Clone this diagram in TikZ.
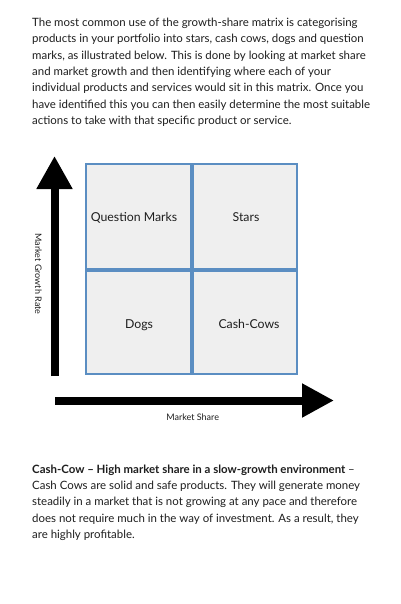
\documentclass[tikz,border=0pt]{standalone}
\usepackage{fontspec}
\setmainfont{Lato}
\usetikzlibrary{arrows.meta}
\definecolor{txt}{HTML}{1E1E1E}
\definecolor{cellborder}{HTML}{5B8EC2}
\definecolor{cellfill}{HTML}{EFEFEF}
\tikzset{
  para/.style={anchor=base west, inner sep=0pt, align=left, text=txt,
    font={\fontsize{11.45}{16.3}\selectfont}},
  cell/.style={draw=cellborder, fill=cellfill, line width=2pt, inner sep=0pt},
  celllabel/.style={anchor=base, inner sep=0pt, text=txt, font={\fontsize{12.3}{14}\selectfont}},
  axislabel/.style={inner sep=0pt, text=txt, font={\fontsize{9}{11}\selectfont}},
  axis/.style={line width=8pt, draw=black}
}
\begin{document}
\begin{tikzpicture}[x=1pt,y=-1pt]
\useasboundingbox (0,0) rectangle (400,604);
\fill[white] (0,0) rectangle (400,604);

% base anchor of a multi-line node = baseline of its last line
\node[para] (intro) at (32,124.5) {The most common use of the growth-share matrix is categorising\\
products in your portfolio into stars, cash cows, dogs and question\\
marks, as illustrated below. This is done by looking at market share\\
and market growth and then identifying where each of your\\
individual products and services would sit in this matrix. Once you\\
have identified this you can then easily determine the most suitable\\
actions to take with that specific product or service.};

% matrix cells
\node[cell, minimum width=105pt, minimum height=104.5pt] (qm) at (138.5,216.25) {};
\node[cell, minimum width=104pt, minimum height=104.5pt] (st) at (245,216.25) {};
\node[cell, minimum width=105pt, minimum height=103.5pt] (dg) at (138.5,322.25) {};
\node[cell, minimum width=104pt, minimum height=103.5pt] (cc) at (245,322.25) {};

\node[celllabel] (qml) at (134,221.7) {Question Marks};
\node[celllabel] (stl) at (246,221.7) {Stars};
\node[celllabel] (dgl) at (139,328.3) {Dogs};
\node[celllabel] (ccl) at (249,328.3) {Cash-Cows};

% axes
\coordinate (ytail) at (54.5,376);
\coordinate (ytip) at (54.5,156);
\coordinate (xtail) at (55,400.5);
\coordinate (xtip) at (334,400.5);
\draw[axis, -{Triangle[length=33pt,width=34pt]}] (ytail) -- (ytip);
\draw[axis, -{Triangle[length=32pt,width=32pt]}] (xtail) -- (xtip);

\node[axislabel, rotate=-90] (ylab) at (38.3,274) {Market Growth Rate};
\node[axislabel, anchor=base] (xlab) at (192.7,420.3) {Market Share};

\node[para] (cashcow) at (32,538.3) {\textbf{Cash-Cow – High market share in a slow-growth environment} –\\
Cash Cows are solid and safe products. They will generate money\\
steadily in a market that is not growing at any pace and therefore\\
does not require much in the way of investment. As a result, they\\
are highly profitable.};
\end{tikzpicture}
\end{document}
